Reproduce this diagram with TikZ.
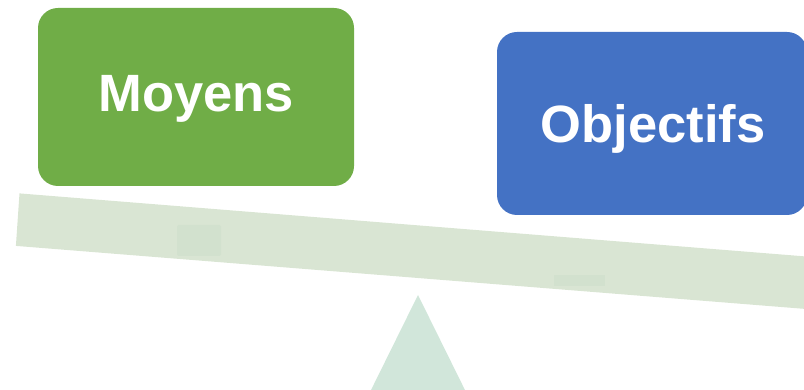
\documentclass[tikz,border=0pt]{standalone}
\usepackage{fontspec}
\setmainfont{Liberation Sans}
\definecolor{boxgreen}{HTML}{70AD47}
\definecolor{boxblue}{HTML}{4472C4}
\definecolor{beamcol}{HTML}{D9E5D3}
\definecolor{markcol}{HTML}{D2E1CE}
\definecolor{fulcol}{HTML}{D1E6DA}
\begin{document}
\begin{tikzpicture}[x=1pt,y=-1pt,
  card/.style={rounded corners=20pt},
  lbl/.style={font=\fontsize{52.5}{60}\selectfont\bfseries, text=white, anchor=base, inner sep=0pt}]
\useasboundingbox (0,0) rectangle (804,390);
\clip (0,0) rectangle (804,390);
% fulcrum
\fill[fulcol] (418,295) -- (479.8,420) -- (356.2,420) -- cycle;
% beam
\fill[beamcol] (19.5,193.4) -- (840,259.2) -- (840,311.7) -- (15.9,245.9) -- cycle;
\fill[markcol, rounded corners=2pt] (177,225) rectangle (221,256);
\fill[markcol] (554,275) rectangle (605,286);
% boxes
\fill[boxgreen, card] (38,8) rectangle (354,186);
\fill[boxblue, card] (497,32) rectangle (807,215);
\node[lbl] (moyens) at (196,112) {Moyens};
\node[lbl] (objectifs) at (653,143) {Objectifs};
\end{tikzpicture}
\end{document}
